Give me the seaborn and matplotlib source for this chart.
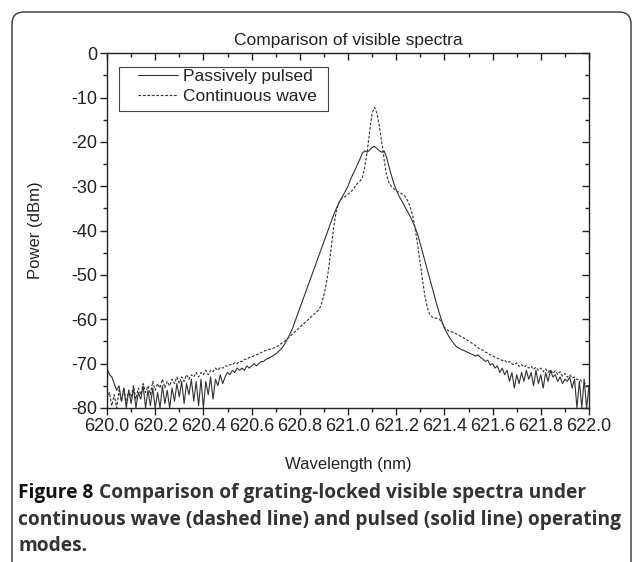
import numpy as np
import pandas as pd
import matplotlib
matplotlib.use('Agg')
import matplotlib.pyplot as plt
from matplotlib.patches import FancyBboxPatch, Rectangle
import seaborn as sns

# Comprimento de onda (nm), passo de 0.01 nm
wavelength = np.round(np.arange(620.00, 622.0001, 0.01), 2)

# Potencia (dBm) - modo pulsado (linha solida)
pulsed = [
    -71.0, -72.5, -73.0, -74.5, -76.0, -75.0, -78.5, -75.5, -80.0, -76.0,
    -79.0, -75.5, -80.0, -76.5, -78.0, -75.0, -80.0, -76.0, -79.5, -75.5,
    -80.0, -76.5, -80.0, -75.0, -79.0, -76.0, -80.0, -75.5, -78.5, -74.5,
    -77.5, -74.0, -79.0, -74.5, -77.0, -73.5, -78.5, -74.0, -79.5, -73.5,
    -80.0, -74.0, -77.0, -73.0, -78.0, -73.5, -75.0, -72.5, -74.5, -73.0,
    -72.0, -72.5, -71.5, -72.0, -71.0, -71.5, -71.0, -71.5, -70.5, -71.0,
    -70.5, -70.0, -70.5, -70.0, -69.5, -69.5, -69.0, -68.8, -68.5, -68.2,
    -67.8, -67.3, -66.8, -66.2, -65.3, -64.3, -63.2, -62.0, -60.5, -59.0,
    -57.5, -56.0, -54.5, -53.0, -51.5, -50.0, -48.5, -47.0, -45.5, -44.0,
    -42.5, -41.0, -39.5, -38.0, -36.5, -35.2, -34.0, -33.0, -32.0, -31.0,
    -30.0, -28.5, -27.3, -26.2, -25.0, -23.8, -22.5, -22.0, -22.3, -21.8,
    -21.2, -21.0, -21.5, -22.0, -22.3, -22.0, -23.5, -25.5, -27.5, -29.3,
    -30.8, -32.0, -33.0, -34.0, -35.0, -36.0, -37.0, -38.2, -39.5, -41.0,
    -43.0, -45.0, -47.0, -49.0, -51.0, -53.0, -55.0, -57.0, -58.8, -60.5,
    -62.0, -63.0, -64.0, -64.8, -65.5, -66.2, -66.5, -66.8, -67.0, -67.3,
    -67.5, -67.8, -68.0, -68.3, -68.0, -68.6, -69.0, -69.5, -69.2, -70.3,
    -70.0, -71.0, -70.5, -72.0, -71.0, -72.5, -71.5, -74.0, -72.0, -75.5,
    -72.5, -74.5, -72.0, -74.0, -71.5, -73.5, -72.0, -75.0, -71.5, -74.5,
    -72.5, -75.5, -72.0, -74.0, -71.5, -73.0, -72.5, -74.0, -73.0, -74.5,
    -73.5, -74.0, -73.0, -75.5, -73.5, -80.0, -74.0, -80.0, -73.5, -80.0,
    -75.0,
]

# Potencia (dBm) - onda continua (linha tracejada)
cw = [
    -78.0, -76.5, -79.5, -77.0, -80.0, -76.0, -78.5, -75.5, -79.0, -76.0,
    -77.5, -75.0, -78.0, -75.5, -77.0, -74.5, -76.5, -75.0, -77.0, -74.0,
    -76.0, -74.5, -75.5, -73.5, -75.5, -74.0, -75.0, -73.5, -74.5, -73.0,
    -74.5, -73.0, -74.0, -72.5, -73.5, -72.5, -73.0, -72.0, -73.0, -72.0,
    -72.5, -71.5, -72.5, -71.5, -71.8, -71.0, -71.5, -70.8, -71.0, -70.5,
    -70.6, -70.2, -70.3, -69.8, -70.0, -69.5, -69.5, -69.0, -69.0, -68.6,
    -68.5, -68.2, -68.0, -67.8, -67.5, -67.2, -67.0, -66.8, -66.7, -66.5,
    -66.3, -66.0, -65.6, -65.2, -64.8, -64.3, -63.8, -63.3, -62.8, -62.3,
    -61.8, -61.3, -60.8, -60.3, -59.8, -59.3, -58.8, -58.3, -57.8, -56.5,
    -54.5, -52.0, -48.5, -44.0, -39.5, -36.0, -34.0, -33.0, -32.5, -32.2,
    -31.8, -31.3, -30.8, -30.0, -29.3, -28.8, -28.0, -25.5, -22.0, -17.5,
    -13.5, -12.2, -13.5, -16.5, -20.0, -24.0, -27.5, -29.2, -30.0, -30.5,
    -31.0, -31.3, -31.6, -31.9, -32.5, -33.5, -35.0, -37.0, -40.0, -43.5,
    -47.5, -51.5, -55.0, -57.5, -59.0, -59.5, -59.7, -59.8, -60.0, -60.8,
    -61.8, -62.3, -62.7, -62.8, -63.0, -63.3, -63.6, -63.9, -64.2, -64.5,
    -64.8, -65.2, -65.6, -66.0, -66.4, -66.8, -67.0, -67.4, -67.6, -68.0,
    -68.3, -68.5, -68.8, -69.0, -69.3, -69.2, -69.8, -69.5, -70.0, -70.3,
    -69.8, -70.6, -70.2, -70.8, -70.4, -71.0, -70.6, -71.3, -70.8, -71.5,
    -71.0, -71.8, -71.2, -72.0, -71.4, -72.2, -71.6, -72.4, -71.8, -72.8,
    -72.2, -73.0, -72.5, -73.2, -73.0, -73.6, -73.5, -74.0, -74.2, -75.0,
    -75.0,
]

x_ticks = np.round(np.arange(620.0, 622.01, 0.2), 1)
y_ticks = np.arange(-80, 1, 10)

df_p = pd.DataFrame({'wl': wavelength, 'power': pulsed})
df_c = pd.DataFrame({'wl': wavelength, 'power': cw})

sns.set_style('white')
plt.rcParams['font.family'] = ['Liberation Sans', 'DejaVu Sans']

fig = plt.figure(figsize=(6.34, 5.62), dpi=100)
ax = fig.add_axes([107/634, 1-408/562, 482/634, 354.7/562])

sns.lineplot(data=df_p, x='wl', y='power', ax=ax, color='#333333', linewidth=0.8,
             estimator=None, label='Passively pulsed')
sns.lineplot(data=df_c, x='wl', y='power', ax=ax, color='#333333', linewidth=0.8,
             estimator=None, label='Continuous wave', linestyle=(0, (2.5, 1.5)))

ax.set_xlim(620.0, 622.0)
ax.set_ylim(-80, 0)
ax.set_xticks(x_ticks)
ax.set_xticklabels([f'{v:.1f}' for v in x_ticks])
ax.set_xticks(np.arange(620.1, 622.0, 0.2), minor=True)
ax.set_yticks(y_ticks)
ax.set_yticklabels([str(v) for v in y_ticks])
ax.set_yticks(np.arange(-75, 0, 10), minor=True)

for s in ax.spines.values():
    s.set_color('#222222')
    s.set_linewidth(1.0)

ax.tick_params(which='both', direction='out', bottom=True, left=True,
               colors='#222222', labelsize=13, pad=2)
ax.tick_params(which='major', length=5, width=1.0)
ax.tick_params(which='minor', length=3, width=1.0)

# ticks espelhados no topo e na direita (para dentro)
secx = ax.secondary_xaxis('top')
secx.set_xticks(x_ticks)
secx.set_xticks(np.arange(620.1, 622.0, 0.2), minor=True)
secx.tick_params(which='both', direction='in', labeltop=False, colors='#222222', width=1.0)
secx.tick_params(which='major', length=5)
secx.tick_params(which='minor', length=3)
secx.spines['top'].set_visible(False)
secy = ax.secondary_yaxis('right')
secy.set_yticks(y_ticks)
secy.set_yticks(np.arange(-75, 0, 10), minor=True)
secy.tick_params(which='both', direction='in', labelright=False, colors='#222222', width=1.0)
secy.tick_params(which='major', length=5)
secy.tick_params(which='minor', length=3)
secy.spines['right'].set_visible(False)

ax.set_title('Comparison of visible spectra', fontsize=12.5, color='#222222', pad=6)
ax.set_xlabel('Wavelength (nm)', fontsize=12, color='#222222', labelpad=16)
ax.set_ylabel('Power (dBm)', fontsize=12, color='#222222', labelpad=20)

# legenda sem moldura + retangulo desenhado a parte
leg = ax.legend(loc='upper left', bbox_to_anchor=((136 - 107) / 482, (408 - 67) / 354.7),
                borderaxespad=0, fontsize=12.5, frameon=False, handlelength=2.3,
                handletextpad=0.3, labelspacing=0.28, borderpad=0.1)
for t in leg.get_texts():
    t.set_color('#222222')
ax.add_patch(Rectangle(((119 - 107) / 482, (408 - 111) / 354.7), (328 - 119) / 482,
                       44 / 354.7, transform=ax.transAxes, fill=False,
                       edgecolor='#444444', linewidth=0.8, zorder=5))

# caixa arredondada em volta da figura
box = FancyBboxPatch((0.12, -0.3), 6.19, 5.50 + 0.3, boxstyle='round,pad=0,rounding_size=0.12',
                     transform=fig.dpi_scale_trans, facecolor='none', edgecolor='#333333',
                     linewidth=1.0)
fig.add_artist(box)

# legenda da figura
cap_kw = dict(fontsize=13.8, fontweight='bold', family=['Open Sans', 'DejaVu Sans'])
t1 = fig.text(18/634, 1-493/562, 'Figure 8', color='#111111', va='center', **cap_kw)
ax.annotate('Comparison of grating-locked visible spectra under', xy=(1, 0.5), xycoords=t1,
            xytext=(4, 0), textcoords='offset points', va='center', color='#333333',
            annotation_clip=False, **cap_kw)
fig.text(18/634, 1-520/562, 'continuous wave (dashed line) and pulsed (solid line) operating',
         color='#333333', va='center', **cap_kw)
fig.text(18/634, 1-546/562, 'modes.', color='#333333', va='center', **cap_kw)

plt.savefig('out.png', dpi=100)
